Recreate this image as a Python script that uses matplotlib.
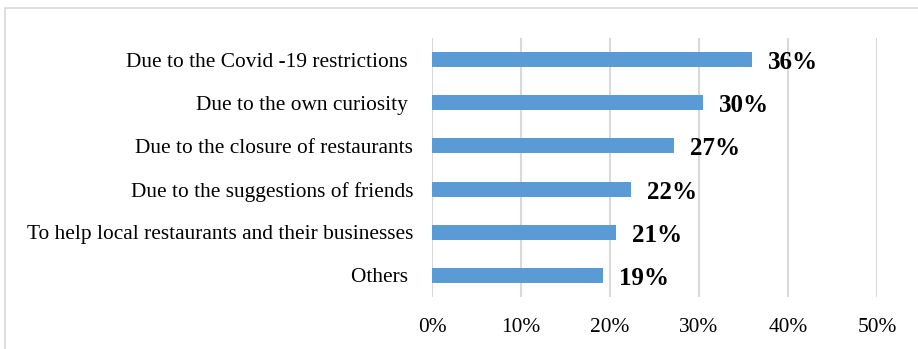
import matplotlib
matplotlib.use("Agg")
import matplotlib.pyplot as plt
from matplotlib.patches import Rectangle
from matplotlib.ticker import FuncFormatter

categories = [
    "Due to the Covid -19 restrictions ",
    "Due to the own curiosity ",
    "Due to the closure of restaurants",
    "Due to the suggestions of friends",
    "To help local restaurants and their businesses",
    "Others ",
]
values = [36.0, 30.4, 27.2, 22.4, 20.7, 19.2]
value_labels = ["36%", "30%", "27%", "22%", "21%", "19%"]
xticks = [0, 10, 20, 30, 40, 50]

plt.rcParams["font.family"] = ["Liberation Serif", "DejaVu Serif"]

fig = plt.figure(figsize=(9.18, 3.49), dpi=100)
fig.patches.append(Rectangle((5 / 918, -0.1), 1.2, 1 - 8 / 349 + 0.1,
                             transform=fig.transFigure, fill=False,
                             edgecolor="#d9d9d9", linewidth=1.2, zorder=0))
ax = fig.add_axes([432 / 918, 1 - 297 / 349, (877 - 432) / 918, (297 - 38) / 349])

y = list(range(len(categories)))
ax.barh(y, values, height=0.35, color="#5B9BD5", zorder=3)
ax.set_ylim(len(categories) - 0.5, -0.5)
ax.set_xlim(0, 50)
ax.set_yticks(y)
ax.set_yticklabels(categories, fontsize=15.4, color="#000000")
ax.set_xticks(xticks)
ax.xaxis.set_major_formatter(FuncFormatter(lambda v, p: f"{int(v)}%"))
ax.tick_params(axis="x", labelsize=15.4, length=0, pad=15)
ax.tick_params(axis="y", length=0, pad=13.5)
ax.grid(axis="x", color="#d9d9d9", linewidth=1.5, zorder=0)
for s in ax.spines.values():
    s.set_visible(False)

for yi, v, lab in zip(y, values, value_labels):
    ax.annotate(lab, (v, yi), xytext=(16, -3), textcoords="offset pixels",
                ha="left", va="center", fontsize=18, fontweight="bold")

fig.savefig("out.png", dpi=100)
